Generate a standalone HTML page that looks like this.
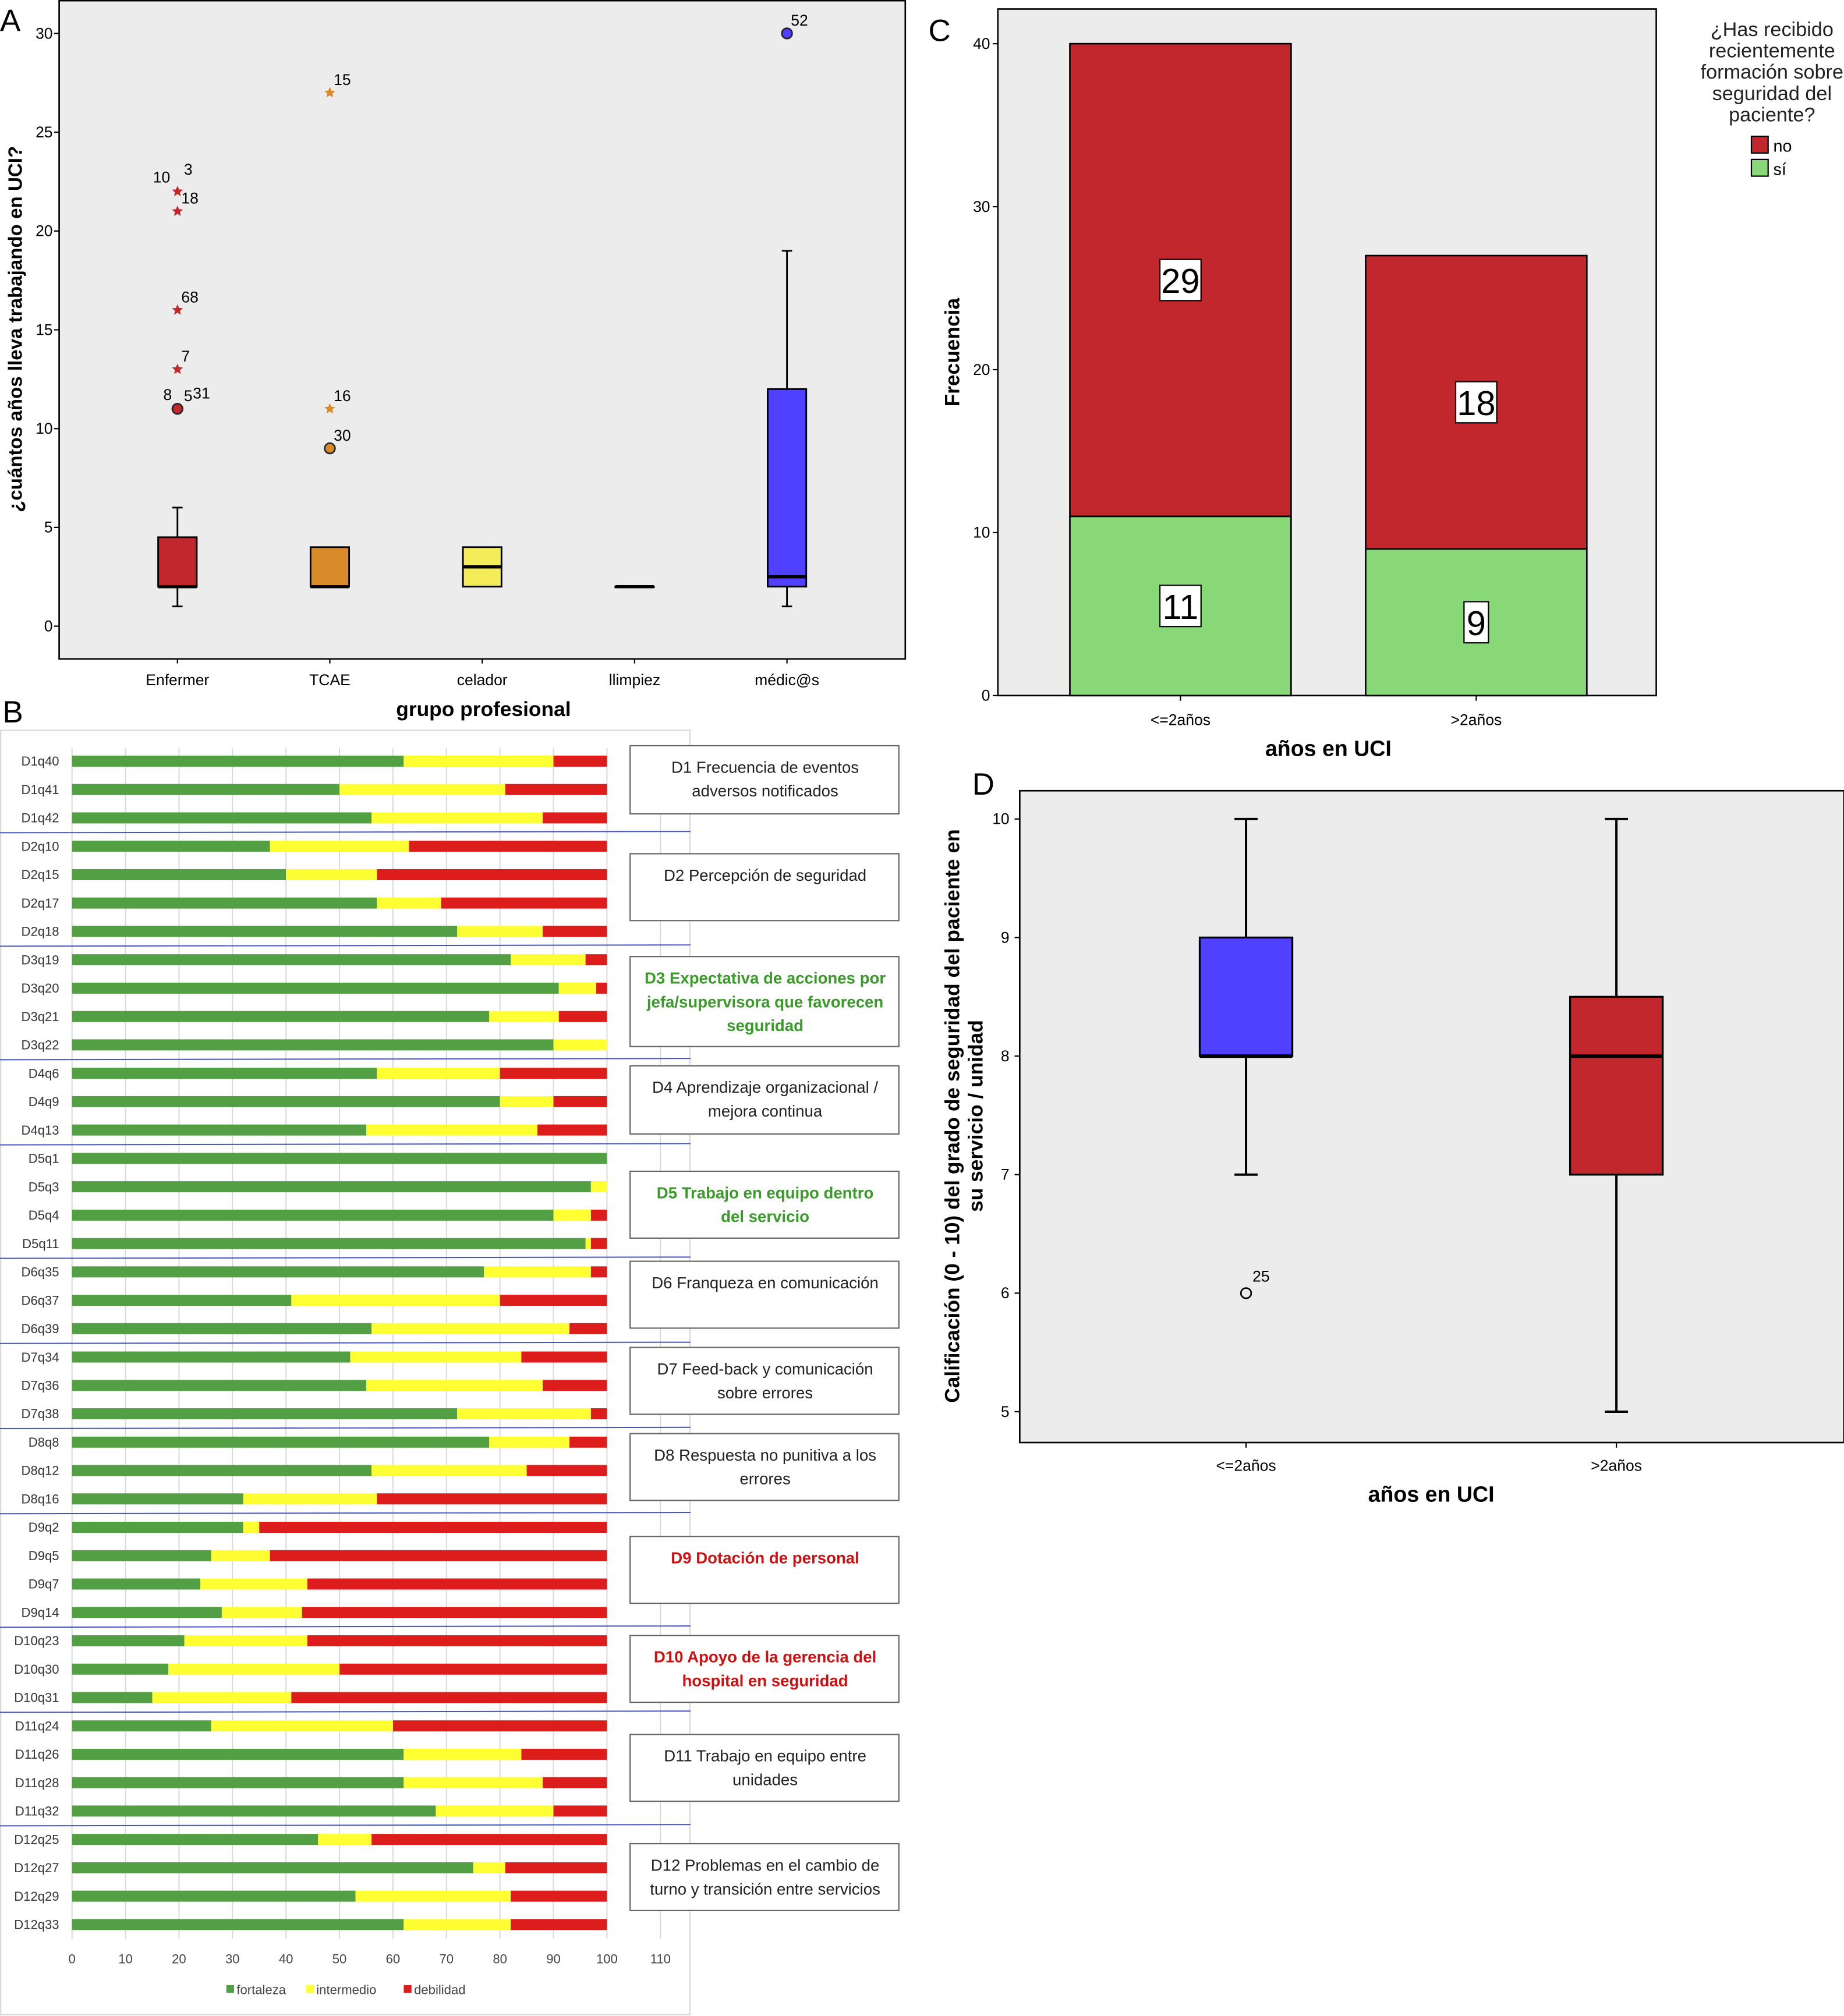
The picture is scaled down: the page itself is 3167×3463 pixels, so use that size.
<!DOCTYPE html>
<html><head><meta charset="utf-8">
<style>
html,body{margin:0;padding:0;background:#fff;}
svg{display:block;font-family:"Liberation Sans",sans-serif;}
</style></head>
<body>
<svg id="fig" xmlns="http://www.w3.org/2000/svg" width="3167" height="3463" viewBox="0 0 1434 1568">
<rect x="0" y="0" width="1434" height="1568" fill="#fff"/>
<g id="pA"></g>
<g id="pB"></g>
<g id="pC"></g>
<g id="pD"></g>
</svg>
<script>
// ---------- Panel A data ----------
const aCategories = ["Enfermer","TCAE","celador","llimpiez","médic@s"];
const aWhiskLo = [1,2,2,2,1];
const aQ1 = [2,2,2,2,2];
const aMedian = [2,2,3,2,2.5];
const aQ3 = [4.5,4,4,2,12];
const aWhiskHi = [6,4,4,2,19];
const aColors = ["#c1272d","#d98a29","#f5ec5a","#f5ec5a","#5040ff"];
const aOutCat = [0,0,0,0,0,1,1,1,4];
const aOutVal = [11,13,16,21,22,9,11,27,30];
const aOutType = ["o","*","*","*","*","o","*","*","o"];
const aOutLabel = ["8|5|31","7","68","18","10|3","30","16","15","52"];
const aTicks = [0,5,10,15,20,25,30];

// ---------- Panel B data ----------
const bItems = ["D1q40","D1q41","D1q42","D2q10","D2q15","D2q17","D2q18","D3q19","D3q20","D3q21","D3q22","D4q6","D4q9","D4q13","D5q1","D5q3","D5q4","D5q11","D6q35","D6q37","D6q39","D7q34","D7q36","D7q38","D8q8","D8q12","D8q16","D9q2","D9q5","D9q7","D9q14","D10q23","D10q30","D10q31","D11q24","D11q26","D11q28","D11q32","D12q25","D12q27","D12q29","D12q33"];
const bFortaleza = [62,50,56,37,40,57,72,82,91,78,90,57,80,55,100,97,90,96,77,41,56,52,55,72,78,56,32,32,26,24,28,21,18,15,26,62,62,68,46,75,53,62];
const bIntermedio = [28,31,32,26,17,12,16,14,7,13,10,23,10,32,0,3,7,1,20,39,37,32,33,25,15,29,25,3,11,20,15,23,32,26,34,22,26,22,10,6,29,20];
const bGroupSizes = [3,4,4,3,4,3,3,3,4,3,4,4];
const bTicks = [0,10,20,30,40,50,60,70,80,90,100,110];

// ---------- Panel C data ----------
const cCategories = ["<=2años",">2años"];
const cSi = [11,9];
const cNo = [29,18];
const cTicks = [0,10,20,30,40];

// ---------- Panel D data ----------
const dCategories = ["<=2años",">2años"];
const dWhiskLo = [7,5];
const dQ1 = [8,7];
const dMedian = [8,8];
const dQ3 = [9,8.5];
const dWhiskHi = [10,10];
const dColors = ["#5040ff","#c1272d"];
const dOutCat = [0];
const dOutVal = [6];
const dOutLabel = ["25"];
const dTicks = [5,6,7,8,9,10];

const NS="http://www.w3.org/2000/svg";
function mk(parent,tag,attrs,text){
  const e=document.createElementNS(NS,tag);
  for(const k in attrs) e.setAttribute(k,attrs[k]);
  if(text!==undefined) e.textContent=text;
  parent.appendChild(e);
  return e;
}
function star(cx,cy,r){
  let p=[];
  for(let i=0;i<10;i++){const a=-Math.PI/2+i*Math.PI/5;const rr=i%2?r*0.45:r;p.push((cx+rr*Math.cos(a)).toFixed(2)+","+(cy+rr*Math.sin(a)).toFixed(2));}
  return p.join(" ");
}

// ===== Panel A =====
(function(){
  const g=document.getElementById('pA');
  const x0=46,x1=704,yT=0,yB=512;
  const yA=v=>487-v*(461/30);
  const xA=i=>138+i*118.5;
  let e=mk(g,'rect',{x:x0,y:yT+0.5,width:x1-x0,height:yB-yT,fill:'#ececec',stroke:'#000','stroke-width':1.2});
  
  e=mk(g,'text',{x:0,y:24,'font-size':24},'A');
  
  aTicks.forEach(t=>{
    mk(g,'line',{x1:x0-4,x2:x0,y1:yA(t),y2:yA(t),stroke:'#000'});
    e=mk(g,'text',{x:x0-5,y:yA(t)+4,'font-size':12,'text-anchor':'end'},t);
    
  });
  e=mk(g,'text',{x:0,y:0,'font-size':15,'font-weight':'bold','text-anchor':'middle',transform:'translate(17,256) rotate(-90)'},'¿cuántos años lleva trabajando en UCI?');
  
  aCategories.forEach((c,i)=>{
    const x=xA(i);
    mk(g,'line',{x1:x,x2:x,y1:yB,y2:yB+4,stroke:'#000'});
    e=mk(g,'text',{x:x,y:533,'font-size':12,'text-anchor':'middle'},c);
    
    const w=30;
    if(aWhiskHi[i]>aQ3[i]) mk(g,'line',{x1:x,x2:x,y1:yA(aWhiskHi[i]),y2:yA(aQ3[i]),stroke:'#000','stroke-width':1.3});
    if(aWhiskLo[i]<aQ1[i]) mk(g,'line',{x1:x,x2:x,y1:yA(aWhiskLo[i]),y2:yA(aQ1[i]),stroke:'#000','stroke-width':1.3});
    if(aWhiskHi[i]>aQ3[i]) mk(g,'line',{x1:x-4,x2:x+4,y1:yA(aWhiskHi[i]),y2:yA(aWhiskHi[i]),stroke:'#000','stroke-width':1.3});
    if(aWhiskLo[i]<aQ1[i]) mk(g,'line',{x1:x-4,x2:x+4,y1:yA(aWhiskLo[i]),y2:yA(aWhiskLo[i]),stroke:'#000','stroke-width':1.3});
    e=mk(g,'rect',{x:x-w/2,y:yA(aQ3[i]),width:w,height:Math.max(yA(aQ1[i])-yA(aQ3[i]),0.5),fill:aColors[i],stroke:'#000','stroke-width':1.3});
    
    mk(g,'line',{x1:x-w/2,x2:x+w/2,y1:yA(aMedian[i]),y2:yA(aMedian[i]),stroke:'#000','stroke-width':2.5});
  });
  aOutVal.forEach((v,k)=>{
    const x=xA(aOutCat[k]),y=yA(v),col=aColors[aOutCat[k]];
    if(aOutType[k]==='o'){e=mk(g,'circle',{cx:x,cy:y,r:4,fill:col,stroke:'#222','stroke-width':1.2});}
    else{e=mk(g,'polygon',{points:star(x,y,4.5),fill:col});}
    
    const parts=aOutLabel[k].split('|');
    let offs, dy;
    if(parts.length===3){offs=[-11,5,12];dy=[-7,-6,-8];}
    else if(parts.length===2){offs=[-19,5];dy=[-7,-13];}
    else{offs=[3];dy=[-6];}
    parts.forEach((p,j)=>{
      e=mk(g,'text',{x:x+offs[j],y:y+dy[j],'font-size':12},p);
      
    });
  });
  e=mk(g,'text',{x:376,y:557,'font-size':16,'font-weight':'bold','text-anchor':'middle'},'grupo profesional');
  
})();

// ===== Panel B =====
(function(){
  const g=document.getElementById('pB');
  const xB=v=>56+v*4.16;
  const yRow=i=>592+i*22.07;
  let e=mk(g,'rect',{x:0.5,y:568,width:536,height:999,fill:'#fff',stroke:'#d9d9d9'});
  
  e=mk(g,'text',{x:2,y:562,'font-size':24},'B');
  
  bTicks.forEach(t=>{
    mk(g,'line',{x1:xB(t),x2:xB(t),y1:582,y2:1508,stroke:'#d9d9d9','stroke-width':0.9});
    e=mk(g,'text',{x:xB(t),y:1527,'font-size':10,'text-anchor':'middle',fill:'#444'},t);
    
  });
  bItems.forEach((it,i)=>{
    const y=yRow(i),f=bFortaleza[i],m=bIntermedio[i];
    e=mk(g,'text',{x:46,y:y+3.5,'font-size':10,'text-anchor':'end',fill:'#333'},it);
    
    e=mk(g,'rect',{x:xB(0),y:y-4.3,width:xB(f)-xB(0),height:8.6,fill:'#52a043'});
    
    e=mk(g,'rect',{x:xB(f),y:y-4.3,width:xB(f+m)-xB(f),height:8.6,fill:'#ffff33'});
    
    e=mk(g,'rect',{x:xB(f+m),y:y-4.3,width:xB(100)-xB(f+m),height:8.6,fill:'#dd1c1c'});
    
  });
  let idx=0;
  bGroupSizes.slice(0,-1).forEach(s=>{
    idx+=s;const y=(yRow(idx-1)+yRow(idx))/2;
    e=mk(g,'line',{x1:0,x2:537,y1:y+0.5,y2:y-0.5,stroke:'#4455bb','stroke-width':0.9});
    
  });
  const boxes=[
    [580,633,["D1 Frecuencia de eventos","adversos notificados"],'#222',false],
    [664,716,["D2 Percepción de seguridad"],'#222',false],
    [744,814,["D3 Expectativa de acciones por","jefa/supervisora que favorecen","seguridad"],'#3a9a2a',true],
    [829,882,["D4 Aprendizaje organizacional /","mejora continua"],'#222',false],
    [911,963,["D5 Trabajo en equipo dentro","del servicio"],'#3a9a2a',true],
    [981,1033,["D6 Franqueza en comunicación"],'#222',false],
    [1048,1100,["D7 Feed-back y comunicación","sobre errores"],'#222',false],
    [1115,1167,["D8 Respuesta no punitiva a los","errores"],'#222',false],
    [1195,1247,["D9 Dotación de personal"],'#d01010',true],
    [1272,1324,["D10 Apoyo de la gerencia del","hospital en seguridad"],'#d01010',true],
    [1349,1401,["D11 Trabajo en equipo entre","unidades"],'#222',false],
    [1434,1486,["D12 Problemas en el cambio de","turno y transición entre servicios"],'#222',false]];
  boxes.forEach(b=>{
    e=mk(g,'rect',{x:490,y:b[0],width:209,height:b[1]-b[0],fill:'#fff',stroke:'#666','stroke-width':1});
    
    b[2].forEach((l,k)=>{
      e=mk(g,'text',{x:595,y:b[0]+21+k*18.5,'font-size':12.5,'text-anchor':'middle',fill:b[3],'font-weight':b[4]?'bold':'normal'},l);
      
    });
  });
  const leg=[[176,'#52a043','fortaleza'],[238,'#ffff33','intermedio'],[314,'#dd1c1c','debilidad']];
  leg.forEach(l=>{
    e=mk(g,'rect',{x:l[0],y:1544,width:6,height:6,fill:l[1]});
    
    e=mk(g,'text',{x:l[0]+8,y:1551,'font-size':10,fill:'#444'},l[2]);
    
  });
})();

// ===== Panel C =====
(function(){
  const g=document.getElementById('pC');
  const x0=776,x1=1288,yT=7,yB=541;
  const yC=v=>541-v*(507/40);
  const xC=i=>918+i*230;
  let e=mk(g,'rect',{x:x0,y:yT,width:x1-x0,height:yB-yT,fill:'#ececec',stroke:'#000','stroke-width':1.2});
  
  e=mk(g,'text',{x:722,y:32,'font-size':24},'C');
  
  cTicks.forEach(t=>{
    mk(g,'line',{x1:x0-4,x2:x0,y1:yC(t),y2:yC(t),stroke:'#000'});
    e=mk(g,'text',{x:x0-6,y:yC(t)+4,'font-size':12,'text-anchor':'end'},t);
    
  });
  e=mk(g,'text',{x:0,y:0,'font-size':16,'font-weight':'bold','text-anchor':'middle',transform:'translate(746,274) rotate(-90)'},'Frecuencia');
  
  cCategories.forEach((c,i)=>{
    const x=xC(i),w=172;
    mk(g,'line',{x1:x,x2:x,y1:yB,y2:yB+4,stroke:'#000'});
    e=mk(g,'text',{x:x,y:564,'font-size':12,'text-anchor':'middle'},c);
    
    e=mk(g,'rect',{x:x-w/2,y:yC(cSi[i]),width:w,height:yC(0)-yC(cSi[i]),fill:'#88d878',stroke:'#000','stroke-width':1.2});
    
    e=mk(g,'rect',{x:x-w/2,y:yC(cSi[i]+cNo[i]),width:w,height:yC(cSi[i])-yC(cSi[i]+cNo[i]),fill:'#c1272d',stroke:'#000','stroke-width':1.2});
    
    [[cSi[i],(yC(0)+yC(cSi[i]))/2],[cNo[i],(yC(cSi[i])+yC(cSi[i]+cNo[i]))/2]].forEach(p=>{
      const bw=String(p[0]).length>1?32:19;
      mk(g,'rect',{x:x-bw/2,y:p[1]-16,width:bw,height:32,fill:'#fff',stroke:'#000','stroke-width':1});
      e=mk(g,'text',{x:x,y:p[1]+10,'font-size':27,'text-anchor':'middle'},p[0]);
      
    });
  });
  e=mk(g,'text',{x:1033,y:588,'font-size':17,'font-weight':'bold','text-anchor':'middle'},'años en UCI');
  
  ["¿Has recibido","recientemente","formación sobre","seguridad del","paciente?"].forEach((l,k)=>{
    e=mk(g,'text',{x:1378,y:28+k*16.6,'font-size':15.5,'text-anchor':'middle',fill:'#222'},l);
    
  });
  [[106,'#c1272d','no'],[124,'#88d878','sí']].forEach(l=>{
    e=mk(g,'rect',{x:1362,y:l[0],width:13,height:13,fill:l[1],stroke:'#000'});
    
    e=mk(g,'text',{x:1379,y:l[0]+12,'font-size':13},l[2]);
    
  });
})();

// ===== Panel D =====
(function(){
  const g=document.getElementById('pD');
  const x0=793,x1=1434,yT=615,yB=1122;
  const yD=v=>1098-(v-5)*(461/5);
  const xD=i=>969+i*288;
  let e=mk(g,'rect',{x:x0,y:yT,width:x1-x0,height:yB-yT,fill:'#ececec',stroke:'#000','stroke-width':1.2});
  
  e=mk(g,'text',{x:756,y:618,'font-size':24},'D');
  
  dTicks.forEach(t=>{
    mk(g,'line',{x1:x0-4,x2:x0,y1:yD(t),y2:yD(t),stroke:'#000'});
    e=mk(g,'text',{x:x0-8,y:yD(t)+4,'font-size':12,'text-anchor':'end'},t);
    
  });
  e=mk(g,'text',{x:0,y:0,'font-size':16,'font-weight':'bold','text-anchor':'middle',transform:'translate(746,868) rotate(-90)'},'Calificación (0 - 10) del grado de seguridad del paciente en');
  
  e=mk(g,'text',{x:0,y:0,'font-size':16,'font-weight':'bold','text-anchor':'middle',transform:'translate(764,868) rotate(-90)'},'su servicio / unidad');
  
  dCategories.forEach((c,i)=>{
    const x=xD(i),w=72;
    mk(g,'line',{x1:x,x2:x,y1:yB,y2:yB+4,stroke:'#000'});
    e=mk(g,'text',{x:x,y:1144,'font-size':12,'text-anchor':'middle'},c);
    
    mk(g,'line',{x1:x,x2:x,y1:yD(dWhiskHi[i]),y2:yD(dQ3[i]),stroke:'#000','stroke-width':1.8});
    mk(g,'line',{x1:x,x2:x,y1:yD(dWhiskLo[i]),y2:yD(dQ1[i]),stroke:'#000','stroke-width':1.8});
    mk(g,'line',{x1:x-9,x2:x+9,y1:yD(dWhiskHi[i]),y2:yD(dWhiskHi[i]),stroke:'#000','stroke-width':1.8});
    mk(g,'line',{x1:x-9,x2:x+9,y1:yD(dWhiskLo[i]),y2:yD(dWhiskLo[i]),stroke:'#000','stroke-width':1.8});
    e=mk(g,'rect',{x:x-w/2,y:yD(dQ3[i]),width:w,height:yD(dQ1[i])-yD(dQ3[i]),fill:dColors[i],stroke:'#000','stroke-width':1.5});
    
    mk(g,'line',{x1:x-w/2,x2:x+w/2,y1:yD(dMedian[i]),y2:yD(dMedian[i]),stroke:'#000','stroke-width':2.8});
  });
  dOutVal.forEach((v,k)=>{
    const x=xD(dOutCat[k]),y=yD(v);
    e=mk(g,'circle',{cx:x,cy:y,r:4,fill:'none',stroke:'#000','stroke-width':1.2});
    
    e=mk(g,'text',{x:x+5,y:y-9,'font-size':12},dOutLabel[k]);
    
  });
  e=mk(g,'text',{x:1113,y:1168,'font-size':17,'font-weight':'bold','text-anchor':'middle'},'años en UCI');
  
})();
</script>
</body></html>
